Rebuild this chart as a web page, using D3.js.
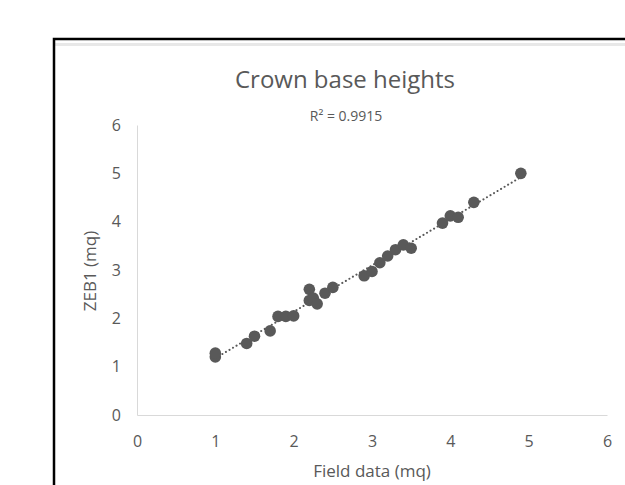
<!DOCTYPE html>
<html>
<head>
<meta charset="utf-8">
<script src="https://cdn.jsdelivr.net/npm/d3@7"></script>
<style>
  body { margin: 0; background: #fff; }
  text { font-family: "Open Sans", sans-serif; fill: #595959; }
</style>
</head>
<body>
<div id="chart"></div>
<script>
var svgWidth = 625;
var svgHeight = 485;

// data
var fieldData = [1.0, 1.0, 1.4, 1.5, 1.7, 1.8, 1.9, 2.0, 2.2, 2.2, 2.25, 2.3, 2.4, 2.5,
  2.9, 3.0, 3.1, 3.2, 3.3, 3.4, 3.5, 3.9, 4.0, 4.1, 4.3, 4.9];
var zebData = [1.2, 1.28, 1.48, 1.63, 1.74, 2.04, 2.04, 2.05, 2.6, 2.37, 2.42, 2.3, 2.52, 2.64,
  2.88, 2.97, 3.15, 3.29, 3.42, 3.52, 3.45, 3.97, 4.12, 4.09, 4.4, 5.0];
var xTicks = [0, 1, 2, 3, 4, 5, 6];
var yTicks = [0, 1, 2, 3, 4, 5, 6];
var r2Label = "R² = 0.9915";

var points = fieldData.map(function(d, i) { return { x: d, y: zebData[i] }; });

var svg = d3.select("#chart")
  .append("svg")
  .attr("width", svgWidth)
  .attr("height", svgHeight);

svg.append("rect")
  .attr("width", "100%")
  .attr("height", "100%")
  .attr("fill", "white");

// chart frame (runs off the page to the right and bottom)
svg.append("rect")
  .attr("x", 55).attr("y", 43)
  .attr("width", 600).attr("height", 3)
  .attr("fill", "#e8e8e8");
svg.append("path")
  .attr("d", "M54,500 L54,39 L640,39")
  .attr("fill", "none")
  .attr("stroke", "#000")
  .attr("stroke-width", 2.5);

var xScale = d3.scaleLinear().domain([0, 6]).range([137, 607]);
var yScale = d3.scaleLinear().domain([0, 6]).range([415, 125]);

var bottomAxis = d3.axisBottom(xScale).tickValues(xTicks).tickFormat(d3.format("d")).tickSize(0).tickPadding(21);
var leftAxis = d3.axisLeft(yScale).tickValues(yTicks).tickFormat(d3.format("d")).tickSize(0).tickPadding(16);

var xAxisG = svg.append("g")
  .attr("transform", "translate(0, 415)")
  .call(bottomAxis);
var yAxisG = svg.append("g")
  .attr("transform", "translate(137, 0)")
  .call(leftAxis);

[xAxisG, yAxisG].forEach(function(g) {
  g.select(".domain").attr("stroke", "#d9d9d9").attr("stroke-width", 1);
  g.selectAll("text")
    .attr("fill", "#595959")
    .style("font-family", "'Open Sans', sans-serif")
    .style("font-size", "16px");
});

// linear trendline
var mx = d3.mean(points, d => d.x);
var my = d3.mean(points, d => d.y);
var slope = d3.sum(points, d => (d.x - mx) * (d.y - my)) / d3.sum(points, d => (d.x - mx) * (d.x - mx));
var intercept = my - slope * mx;
var xExt = d3.extent(fieldData);

svg.append("line")
  .attr("x1", xScale(xExt[0]))
  .attr("y1", yScale(intercept + slope * xExt[0]))
  .attr("x2", xScale(xExt[1]))
  .attr("y2", yScale(intercept + slope * xExt[1]))
  .attr("stroke", "#595959")
  .attr("stroke-width", 2)
  .attr("stroke-linecap", "round")
  .attr("stroke-dasharray", "0.1 4");

svg.selectAll("circle")
  .data(points)
  .enter()
  .append("circle")
  .attr("cx", d => xScale(d.x))
  .attr("cy", d => yScale(d.y))
  .attr("r", 5.8)
  .attr("fill", "#595959");

// titles
svg.append("text")
  .attr("x", 345).attr("y", 88)
  .attr("text-anchor", "middle")
  .style("font-size", "24px")
  .text("Crown base heights");

svg.append("text")
  .attr("x", 346).attr("y", 121)
  .attr("text-anchor", "middle")
  .style("font-size", "14px")
  .text(r2Label);

svg.append("text")
  .attr("transform", "translate(372, 477)")
  .attr("text-anchor", "middle")
  .style("font-size", "17px")
  .text("Field data (mq)");

svg.append("text")
  .attr("transform", "translate(96, 271) rotate(-90)")
  .attr("text-anchor", "middle")
  .style("font-size", "17px")
  .text("ZEB1 (mq)");
</script>
</body>
</html>
